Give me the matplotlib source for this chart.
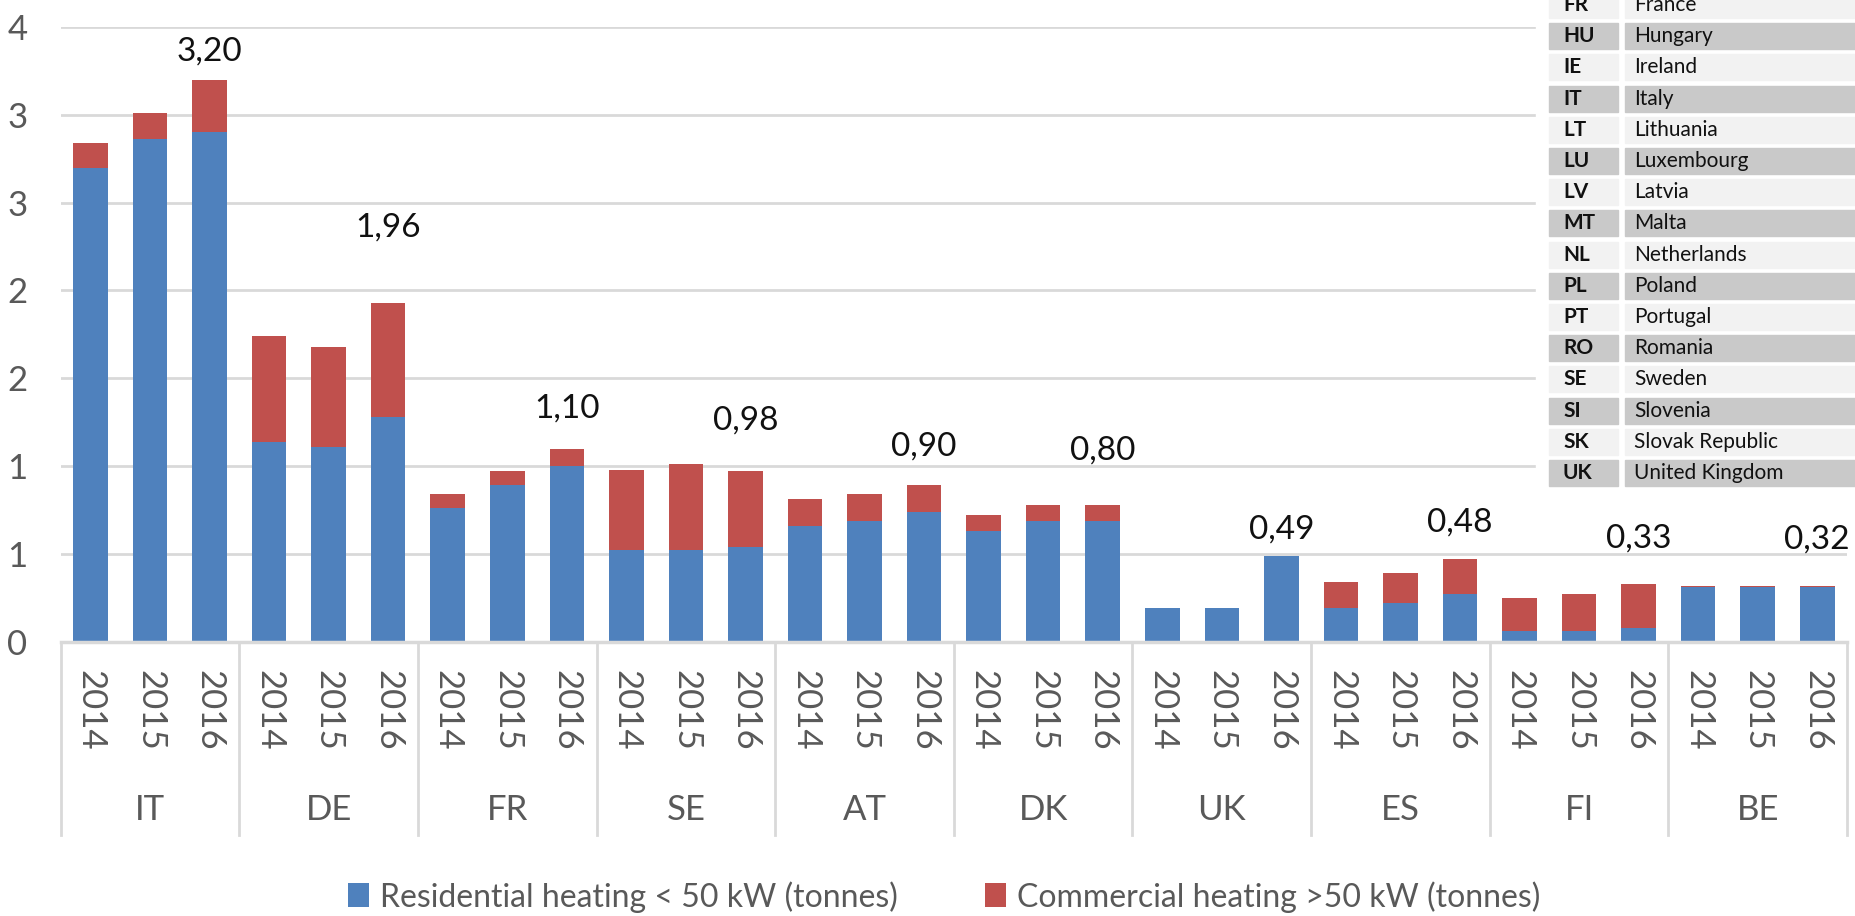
import numpy as np
import matplotlib
matplotlib.use('Agg')
import matplotlib.pyplot as plt
from matplotlib.patches import Rectangle
from matplotlib.transforms import blended_transform_factory

plt.rcParams['font.family'] = ['Lato', 'DejaVu Sans']

countries = ['IT', 'DE', 'FR', 'SE', 'AT', 'DK', 'UK', 'ES', 'FI', 'BE']
years = ['2014', '2015', '2016']

# tonnes, 3 years per country (2014, 2015, 2016)
residential = [2.70, 2.86, 2.90,
               1.14, 1.11, 1.28,
               0.76, 0.89, 1.00,
               0.52, 0.52, 0.54,
               0.66, 0.69, 0.74,
               0.63, 0.69, 0.69,
               0.19, 0.19, 0.49,
               0.19, 0.22, 0.27,
               0.06, 0.06, 0.08,
               0.31, 0.31, 0.31]
commercial = [0.14, 0.15, 0.30,
              0.60, 0.57, 0.65,
              0.08, 0.08, 0.10,
              0.46, 0.49, 0.43,
              0.15, 0.15, 0.15,
              0.09, 0.09, 0.09,
              0.00, 0.00, 0.00,
              0.15, 0.17, 0.20,
              0.19, 0.21, 0.25,
              0.01, 0.01, 0.01]
totals_2016 = [3.20, 1.96, 1.10, 0.98, 0.90, 0.80, 0.49, 0.48, 0.33, 0.32]

y_ticks = [0, 0.5, 1, 1.5, 2, 2.5, 3, 3.5]
y_tick_labels = ['0', '1', '1', '2', '2', '3', '3', '4']

codes = ['FR', 'HU', 'IE', 'IT', 'LT', 'LU', 'LV', 'MT', 'NL', 'PL', 'PT', 'RO', 'SE', 'SI', 'SK', 'UK']
names = ['France', 'Hungary', 'Ireland', 'Italy', 'Lithuania', 'Luxembourg', 'Latvia', 'Malta',
         'Netherlands', 'Poland', 'Portugal', 'Romania', 'Sweden', 'Slovenia', 'Slovak Republic',
         'United Kingdom']

# how high each value label sits above its bar (data units)
label_lift = [0.16, 0.43, 0.23, 0.29, 0.22, 0.31, 0.15, 0.21, 0.26, 0.26]

blue = '#4F81BD'
red = '#C0504D'
grid = '#D9D9D9'
txt = '#595959'

fig = plt.figure(figsize=(18.55, 9.16), dpi=100)
ax = fig.add_axes([0.0327, 0.2994, 0.9630, 0.6711])

x = np.arange(len(residential))
b1 = ax.bar(x, residential, width=0.58, color=blue, zorder=2)
b2 = ax.bar(x, commercial, bottom=residential, width=0.58, color=red, zorder=2)

ax.set_xlim(-0.5, len(x) - 0.5)
ax.set_ylim(0, 3.5)
ax.set_yticks(y_ticks)
ax.set_yticklabels(y_tick_labels)
ax.yaxis.grid(True, color=grid, lw=2)
ax.set_axisbelow(True)
for s in ['top', 'right', 'left']:
    ax.spines[s].set_visible(False)
ax.spines['bottom'].set_color(grid)
ax.spines['bottom'].set_linewidth(2.5)
ax.tick_params(axis='y', length=0, pad=24, labelsize=25, labelcolor=txt)

ax.set_xticks(x)
ax.set_xticklabels(years * len(countries), rotation=-90)
ax.tick_params(axis='x', length=0, pad=20, labelsize=25, labelcolor=txt)

trans = blended_transform_factory(ax.transData, ax.transAxes)
for k in range(len(countries) + 1):
    ax.plot([k * 3 - 0.5, k * 3 - 0.5], [0, -0.314], transform=trans, clip_on=False,
            color=grid, lw=2)
for k, c in enumerate(countries):
    ax.text(k * 3 + 1, -0.274, c, transform=trans, ha='center', va='center',
            fontsize=25, color=txt)

# value labels over the 2016 bars
for k, v in enumerate(totals_2016):
    i = k * 3 + 2
    top = residential[i] + commercial[i]
    ax.text(i, top + label_lift[k], ('%.2f' % v).replace('.', ','),
            ha='center', va='center', fontsize=24, color='#111111')

fig.legend([b1, b2], ['Residential heating < 50 kW (tonnes)', 'Commercial heating >50 kW (tonnes)'],
           loc='center', bbox_to_anchor=(0.509, 0.021), ncol=2, frameon=False,
           fontsize=23, labelcolor=txt, handlelength=0.66, handleheight=0.78,
           handletextpad=0.36, columnspacing=2.7)

# country code table pasted over the top right corner
ov = fig.add_axes([0, 0, 1, 1], zorder=5)
ov.set_xlim(0, 1855)
ov.set_ylim(916, 0)
ov.axis('off')
ov.patch.set_alpha(0)
ov.add_patch(Rectangle((1536, 0), 319, 492, color='white'))
for i, (code, name) in enumerate(zip(codes, names)):
    top = -8 + i * 31.2
    col = '#F2F2F2' if i % 2 == 0 else '#C9C9C9'
    ov.add_patch(Rectangle((1549, top), 69, 26, color=col))
    ov.add_patch(Rectangle((1625, top), 230, 26, color=col))
    ov.text(1563, top + 13, code, ha='left', va='center', fontsize=15, fontweight='bold', color='#111111')
    ov.text(1634, top + 13, name, ha='left', va='center', fontsize=15, color='#111111')

plt.savefig('out.png', dpi=100)
